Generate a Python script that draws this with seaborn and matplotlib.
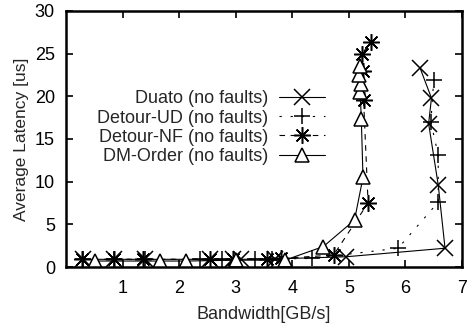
import pandas as pd
import seaborn as sns
import matplotlib.pyplot as plt

# Giá trị
duato_x = [0.30, 0.85, 1.40, 2.55, 2.95, 3.10, 3.70, 4.95, 6.70, 6.58, 6.41, 6.46, 6.26]
duato_y = [0.9, 0.9, 0.9, 0.9, 0.9, 0.9, 0.95, 1.2, 2.2, 9.6, 16.8, 19.8, 23.3]

ud_x = [0.30, 0.85, 1.40, 2.37, 2.75, 3.34, 3.64, 4.34, 5.87, 6.58, 6.58, 6.45, 6.50]
ud_y = [0.9, 0.9, 0.9, 0.9, 0.9, 0.95, 0.95, 1.0, 2.2, 7.6, 13.1, 17.0, 21.9]

nf_x = [0.28, 0.84, 1.37, 2.55, 2.95, 3.55, 3.80, 4.73, 5.34, 5.26, 5.25, 5.23, 5.40]
nf_y = [0.9, 0.9, 0.9, 0.9, 0.9, 0.9, 1.0, 1.4, 7.5, 19.6, 23.0, 25.0, 26.4]

dm_x = [0.51, 1.66, 2.13, 3.00, 3.87, 4.55, 5.10, 5.25, 5.22, 5.20, 5.22, 5.18, 5.20]
dm_y = [0.7, 0.7, 0.7, 0.8, 0.8, 2.4, 5.5, 10.5, 17.4, 20.5, 21.5, 22.5, 23.5]

labels = ["Duato (no faults)", "Detour-UD (no faults)",
          "Detour-NF (no faults)", "DM-Order (no faults)"]

sns.set_style("ticks")
plt.rcParams['font.family'] = ['Liberation Sans', 'DejaVu Sans']

fig = plt.figure(figsize=(4.67, 3.30), dpi=100)
ax = fig.add_axes([0.1413, 0.1909, 0.848, 0.7758])

series = [
    (duato_x, duato_y, labels[0], dict(marker='x', ls='-', mfc='black', ms=12)),
    (ud_x, ud_y, labels[1], dict(marker='+', ls=(0, (2, 8)), mfc='black', ms=12)),
    (nf_x, nf_y, labels[2], dict(marker=(8, 2, 0), ls=(0, (5, 5)), mfc='black', ms=12)),
    (dm_x, dm_y, labels[3], dict(marker='^', ls='-', mfc='white', ms=10)),
]

for xs, ys, lab, st in series:
    df = pd.DataFrame({'bw': xs, 'lat': ys})
    sns.lineplot(data=df, x='bw', y='lat', sort=False, estimator=None, ax=ax,
                 color='black', linewidth=0.8, marker=st['marker'],
                 linestyle=st['ls'], markersize=st['ms'], mew=1.1,
                 mfc=st['mfc'], mec='black', label=lab)

ax.set_xlim(0, 7)
ax.set_ylim(0, 30)
ax.set_xticks([1, 2, 3, 4, 5, 6, 7])
ax.set_yticks([0, 5, 10, 15, 20, 25, 30])
ax.set_xlabel("Bandwidth[GB/s]", fontsize=13, labelpad=7)
ax.set_ylabel("Average Latency [us]", fontsize=12.5, labelpad=4)
ax.tick_params(axis='x', pad=9)
ax.tick_params(axis='y', pad=8)
ax.tick_params(direction='in', length=5, width=1.2, top=True, right=True,
               labelsize=13, colors='black')
for s in ax.spines.values():
    s.set_linewidth(1.8)
    s.set_color('black')
    s.set_visible(True)

ax.legend(loc='upper right', bbox_to_anchor=(0.655, 0.69), markerfirst=False,
          frameon=False, fontsize=13, handlelength=2.55, labelspacing=0.12,
          handletextpad=0.6, borderaxespad=0, borderpad=0)

plt.savefig('out.png', dpi=100)
